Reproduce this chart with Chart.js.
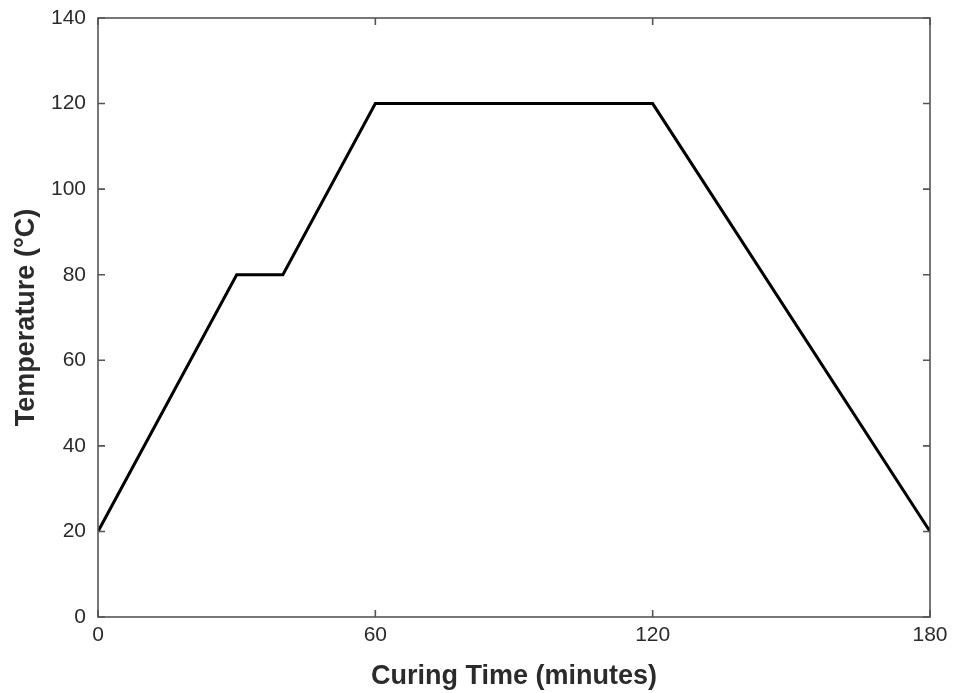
<!DOCTYPE html>
<html>
<head>
<meta charset="utf-8">
<script src="https://cdn.jsdelivr.net/npm/chart.js@4.4.0/dist/chart.umd.min.js"></script>
<style>
  html, body { margin: 0; padding: 0; background: #fff; }
  #wrap { width: 953px; height: 693px; }
</style>
</head>
<body>
<div id="wrap"><canvas id="cure"></canvas></div>
<script>
// cure cycle points
const timeMinutes = [0, 30, 40, 60, 120, 180];
const temperatureC = [20, 80, 80, 120, 120, 20];
const xTicks = [0, 60, 120, 180];
const yTicks = [0, 20, 40, 60, 80, 100, 120, 140];

const frameColor = '#555';
const textColor = '#2b2b2b';
const fontFamily = 'Liberation Sans, Arial, Helvetica, sans-serif';

//-----------------------------------------------------------------------------
// box round the plot plus inward tick marks on all four sides
//-----------------------------------------------------------------------------
const boxAndTicks = {
    id: 'boxAndTicks',
    afterDraw(chart) {
        const { ctx, chartArea: a, scales } = chart;
        const len = 7;
        ctx.save();
        ctx.strokeStyle = frameColor;
        ctx.lineWidth = 1.6;
        ctx.strokeRect(a.left, a.top, a.right - a.left, a.bottom - a.top);
        ctx.beginPath();
        xTicks.forEach(v => {
            const px = scales.x.getPixelForValue(v);
            ctx.moveTo(px, a.bottom); ctx.lineTo(px, a.bottom - len);
            ctx.moveTo(px, a.top);    ctx.lineTo(px, a.top + len);
        });
        yTicks.forEach(v => {
            const py = scales.y.getPixelForValue(v);
            ctx.moveTo(a.left, py);  ctx.lineTo(a.left + len, py);
            ctx.moveTo(a.right, py); ctx.lineTo(a.right - len, py);
        });
        ctx.stroke();
        ctx.restore();
    }
};

const ctx = document.getElementById('cure').getContext('2d');
const chart = new Chart(ctx, {
    type: 'line',
    data: {
        datasets: [{
            data: timeMinutes.map((t, i) => ({ x: t, y: temperatureC[i] })),
            borderColor: '#000',
            borderWidth: 3,
            pointRadius: 0,
            tension: 0,
            fill: false
        }]
    },
    options: {
        responsive: true,
        maintainAspectRatio: false,
        animation: false,
        layout: { padding: { top: 18, right: 23, left: 0, bottom: 0 } },
        plugins: {
            legend: { display: false },
            tooltip: { enabled: false }
        },
        scales: {
            x: {
                type: 'linear',
                min: 0, max: 180,
                afterBuildTicks: s => { s.ticks = xTicks.map(v => ({ value: v })); },
                afterFit: s => { s.height = 76; s.paddingLeft = 0; s.paddingRight = 0; },
                grid: { display: false, drawTicks: false },
                border: { display: false },
                ticks: { color: textColor, font: { family: fontFamily, size: 21 }, padding: 6, maxRotation: 0 },
                title: {
                    display: true,
                    text: 'Curing Time (minutes)',
                    color: textColor,
                    font: { family: fontFamily, size: 27, weight: 'bold' },
                    padding: { top: 0, bottom: 0 }
                }
            },
            y: {
                min: 0, max: 140,
                afterBuildTicks: s => { s.ticks = yTicks.map(v => ({ value: v })); },
                afterFit: s => { s.width = 98; s.paddingTop = 0; s.paddingBottom = 0; },
                grid: { display: false, drawTicks: false },
                border: { display: false },
                ticks: { color: textColor, font: { family: fontFamily, size: 21 }, padding: 12 },
                title: {
                    display: true,
                    text: 'Temperature (°C)',
                    color: textColor,
                    font: { family: fontFamily, size: 27, weight: 'bold' },
                    padding: { top: 10, bottom: 0 }
                }
            }
        }
    },
    plugins: [boxAndTicks]
});
</script>
</body>
</html>
